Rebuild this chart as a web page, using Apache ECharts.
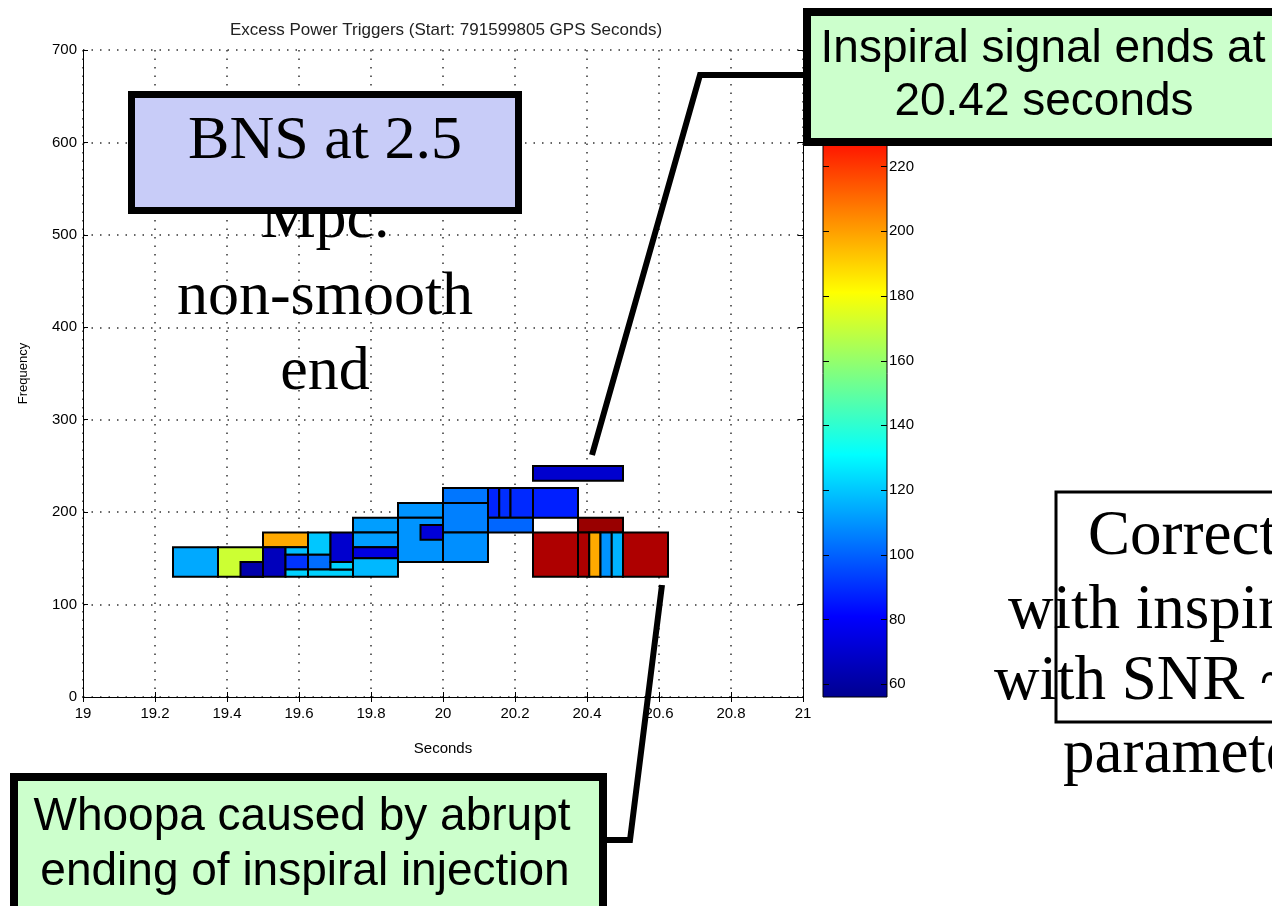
<!DOCTYPE html>
<html><head><meta charset="utf-8">
<script src="https://cdn.jsdelivr.net/npm/echarts@6/dist/echarts.min.js"></script>
<style>html,body{margin:0;padding:0;background:#fff;}#chart{width:1272px;height:906px;}</style>
</head><body><div id="chart"></div>
<script>
// ---- data ----
const chartTitle = 'Excess Power Triggers (Start: 791599805 GPS Seconds)';
const xTickLabels = ['19','19.2','19.4','19.6','19.8','20','20.2','20.4','20.6','20.8','21'];
const yTickLabels = ['0','100','200','300','400','500','600','700'];
const colorbarTicks = [60, 80, 100, 120, 140, 160, 180, 200, 220];
const colorbarRange = [56, 256];
// trigger tiles: start time, end time, low freq, high freq, SNR value
const tileStart = [19.25,19.375,19.4375,19.5,19.5,19.5625,19.5625,19.5625,19.625,19.625,19.625,19.6875,19.6875,19.75,19.75,19.75,19.75,19.875,19.875,19.9375,20.0,20.0,20.0,20.125,20.15625,20.1875,20.125,20.25,20.25,20.375,20.25,20.375,20.40625,20.4375,20.46875,20.5];
const tileEnd   = [19.375,19.5,19.5,19.625,19.5625,19.625,19.625,19.625,19.6875,19.6875,19.75,19.75,19.75,19.875,19.875,19.875,19.875,20.0,20.0,20.0,20.125,20.125,20.125,20.15625,20.1875,20.25,20.25,20.375,20.5,20.5,20.375,20.40625,20.4375,20.46875,20.5,20.625];
const tileLow   = [130,130,130,162,130,154,138,130,154,138,130,146,138,178,162,150,130,194,146,170,210,178,146,194,194,194,178,194,234,178,130,130,130,130,130,130];
const tileHigh  = [162,162,146,178,162,162,154,138,178,154,138,178,146,194,178,162,150,210,194,186,226,210,178,226,226,226,194,226,250,194,178,178,178,178,178,178];
const tileSNR   = [114,171,62,198,66,118,91,122,120,102,122,70,122,112,112,74,117,110,110,72,104,106,109,88,90,89,101,87,70,251,247,247,198,110,116,247];

const jet = ['#00008F','#0000FF','#0080FF','#00FFFF','#80FF80','#FFFF00','#FF8000','#FF0000','#800000'];
const FONT = 'Liberation Sans';
const SERIF = 'Liberation Serif';

const tiles = tileStart.map((t, i) => [t, tileEnd[i], tileLow[i], tileHigh[i], tileSNR[i]]);

const chart = echarts.init(document.getElementById('chart'), null, {renderer: 'canvas'});

function renderTile(params, api) {
  const p1 = api.coord([api.value(0), api.value(3)]);
  const p2 = api.coord([api.value(1), api.value(2)]);
  return {
    type: 'rect',
    shape: {x: p1[0], y: p1[1], width: p2[0] - p1[0], height: p2[1] - p1[1]},
    style: {fill: api.visual('color'), stroke: '#000', lineWidth: 2}
  };
}
function renderBar(params, api) {
  const p1 = api.coord([api.value(0), api.value(3)]);
  const p2 = api.coord([api.value(1), api.value(2)]);
  const stops = jet.map((c, i) => ({offset: i / (jet.length - 1), color: c}));
  const children = [{
    type: 'rect',
    shape: {x: p1[0], y: p1[1], width: p2[0] - p1[0], height: p2[1] - p1[1]},
    style: {fill: new echarts.graphic.LinearGradient(0, 1, 0, 0, stops), stroke: '#000', lineWidth: 1}
  }];
  colorbarTicks.forEach((v) => {
    const y = Math.round(api.coord([0, v])[1]) + 0.5;
    children.push({type: 'line', shape: {x1: p1[0], y1: y, x2: p1[0] + 6, y2: y}, style: {stroke: '#000', lineWidth: 1}});
    children.push({type: 'line', shape: {x1: p2[0] - 6, y1: y, x2: p2[0], y2: y}, style: {stroke: '#000', lineWidth: 1}});
  });
  return {type: 'group', children: children};
}

const dotted = {show: true, lineStyle: {color: '#333', type: [1.5, 7], width: 1.5}};
const blackLine = {show: true, lineStyle: {color: '#000', width: 1}};
const inTick = {show: true, inside: true, length: 5, lineStyle: {color: '#000'}};

function txt(text, x, y, size, family, align, extra) {
  return Object.assign({
    type: 'text', z: 100,
    style: {text: text, x: x, y: y, font: size + 'px "' + family + '"', fontSize: size, fontFamily: family,
      fill: '#000', align: align, textAlign: align, verticalAlign: 'middle', textVerticalAlign: 'middle'}
  }, extra || {});
}

const option = {
  animation: false,
  backgroundColor: '#fff',
  textStyle: {fontFamily: FONT},
  title: {
    text: chartTitle, left: 441, top: 17, textAlign: 'center',
    textStyle: {fontSize: 17, fontWeight: 'normal', color: '#222', fontFamily: FONT}
  },
  grid: [
    {left: 83, top: 50, width: 720, height: 647},
    {left: 823, top: 50, width: 64, height: 647}
  ],
  visualMap: {
    type: 'continuous', show: false, seriesIndex: 0, dimension: 4,
    min: colorbarRange[0], max: colorbarRange[1], inRange: {color: jet}
  },
  xAxis: [
    {gridIndex: 0, type: 'value', min: 19, max: 21, interval: 0.2, position: 'bottom',
     axisLine: blackLine, axisTick: inTick, splitLine: dotted,
     axisLabel: {color: '#000', fontSize: 15, margin: 9, showMinLabel: true, showMaxLabel: true,
       formatter: (v) => xTickLabels[Math.round((v - 19) / 0.2)]},
     name: 'Seconds', nameLocation: 'middle', nameGap: 44,
     nameTextStyle: {color: '#000', fontSize: 15}},
    {gridIndex: 0, type: 'value', min: 19, max: 21, interval: 0.2, position: 'top',
     axisLine: blackLine, axisTick: inTick, axisLabel: {show: false}, splitLine: {show: false}},
    {gridIndex: 1, type: 'value', min: 0, max: 1, show: false}
  ],
  yAxis: [
    {gridIndex: 0, type: 'value', min: 0, max: 700, interval: 100, position: 'left',
     axisLine: blackLine, axisTick: inTick, splitLine: dotted,
     axisLabel: {color: '#000', fontSize: 15, margin: 6,
       formatter: (v) => yTickLabels[Math.round(v / 100)]},
     name: 'Frequency', nameLocation: 'middle', nameGap: 53, nameRotate: 90,
     nameTextStyle: {color: '#000', fontSize: 13}},
    {gridIndex: 0, type: 'value', min: 0, max: 700, interval: 100, position: 'right',
     axisLine: blackLine, axisTick: inTick, axisLabel: {show: false}, splitLine: {show: false}},
    {gridIndex: 1, type: 'value', min: colorbarRange[0], max: colorbarRange[1], position: 'right',
     axisLine: {show: false}, axisTick: {show: false},
     axisLabel: {show: true, color: '#000', fontSize: 15, margin: 2, customValues: colorbarTicks},
     splitLine: {show: false}}
  ],
  series: [
    {type: 'custom', xAxisIndex: 0, yAxisIndex: 0, renderItem: renderTile, data: tiles,
     encode: {x: [0, 1], y: [2, 3]}, clip: true, z: 3},
    {type: 'custom', xAxisIndex: 2, yAxisIndex: 2, renderItem: renderBar,
     data: [[0, 1, colorbarRange[0], colorbarRange[1]]], encode: {x: [0, 1], y: [2, 3]}, silent: true, z: 1}
  ],
  graphic: [
    // left annotation text (partly behind the lavender box)
    txt('Mpc.', 325, 221, 62, SERIF, 'center', {z: 100}),
    txt('non-smooth', 325, 298, 62, SERIF, 'center', {z: 100}),
    txt('end', 325, 373, 62, SERIF, 'center', {z: 100}),
    {type: 'rect', z: 101, shape: {x: 131.5, y: 94.5, width: 387, height: 116},
     style: {fill: '#C8CCF8', stroke: '#000', lineWidth: 7}},
    txt('BNS at 2.5', 325, 142, 62, SERIF, 'center', {z: 102}),
    // top right callout
    {type: 'polyline', z: 100, shape: {points: [[806, 75], [700, 75], [592, 455]]},
     style: {stroke: '#000', lineWidth: 6, fill: null}},
    {type: 'rect', z: 101, shape: {x: 807, y: 12, width: 520, height: 130},
     style: {fill: '#CCFFCC', stroke: '#000', lineWidth: 8}},
    txt('Inspiral signal ends at', 1043, 49, 46, FONT, 'center', {z: 102}),
    txt('20.42 seconds', 1044, 102, 46, FONT, 'center', {z: 102}),
    // bottom left callout
    {type: 'polyline', z: 100, shape: {points: [[604, 840], [630, 840], [662, 585]]},
     style: {stroke: '#000', lineWidth: 6, fill: null}},
    {type: 'rect', z: 101, shape: {x: 14, y: 777, width: 589, height: 150},
     style: {fill: '#CCFFCC', stroke: '#000', lineWidth: 8}},
    txt('Whoopa caused by abrupt', 302, 817, 46, FONT, 'center', {z: 102}),
    txt('ending of inspiral injection', 305, 872, 46, FONT, 'center', {z: 102}),
    // right side note (cut off by the page edge)
    txt('Correct', 1088, 537, 63, SERIF, 'left', {z: 100}),
    txt('with inspiral', 1008, 611, 63, SERIF, 'left', {z: 100}),
    txt('with SNR ~', 994, 682, 63, SERIF, 'left', {z: 100}),
    txt('parameters', 1063, 755, 63, SERIF, 'left', {z: 100}),
    {type: 'rect', z: 101, shape: {x: 1056, y: 492, width: 300, height: 230},
     style: {fill: null, stroke: '#000', lineWidth: 3}}
  ]
};
chart.setOption(option);
</script></body></html>
